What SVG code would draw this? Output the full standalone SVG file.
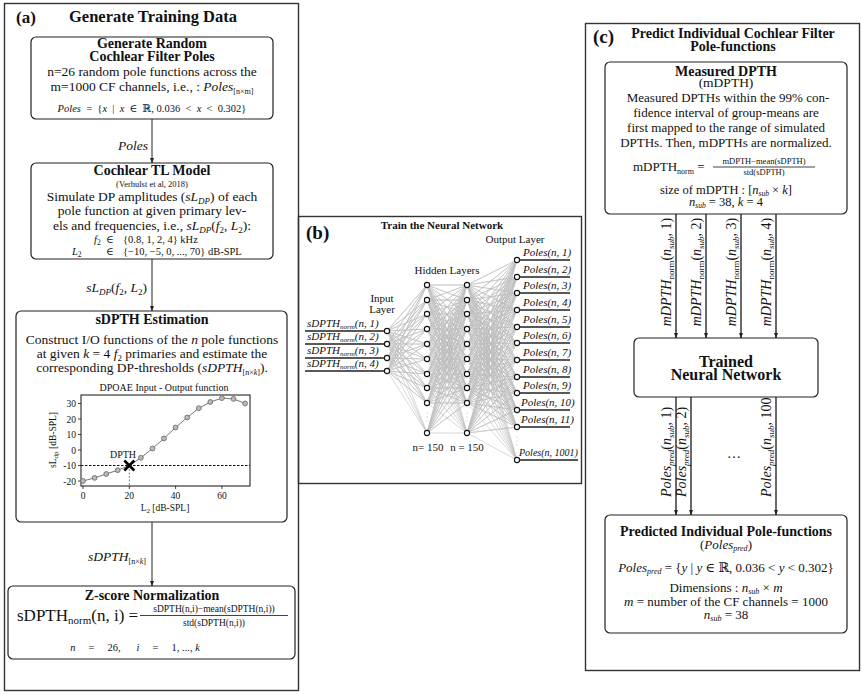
<svg xmlns="http://www.w3.org/2000/svg" width="862" height="694" viewBox="0 0 862 694">
<defs>
<marker id="ah" viewBox="0 0 10 10" refX="9" refY="5" markerWidth="6" markerHeight="6" markerUnits="userSpaceOnUse" orient="auto"><path d="M0,1.5L10,5L0,8.5z" fill="#222"/></marker>
<style>
text{font-family:"Liberation Serif","DejaVu Serif",serif;fill:#111}
.frame{fill:none;stroke:#333;stroke-width:1.4}
.box{fill:#fff;stroke:#222;stroke-width:1.2}
.t{font-size:13.5px}
.s{font-size:10.5px}
.c{text-anchor:middle}
.e{text-anchor:end}
.b{font-weight:bold}
.i{font-style:italic}
.h{font-size:14px;font-weight:bold}
.arr{fill:none;stroke:#222;stroke-width:1;marker-end:url(#ah)}
.arr2{fill:none;stroke:#444;stroke-width:1.6;marker-end:url(#ah)}
.nn{fill:none;stroke:#bdbdbd;stroke-width:0.6}
.nd{fill:#fff;stroke:#111;stroke-width:1.1}
.io{stroke:#222;stroke-width:1.3}
.pt{fill:#bbb;stroke:#777;stroke-width:1}
.dot{fill:#bbb}
</style>
</defs>
<rect width="862" height="694" fill="#fff"/>

<!-- Panel frames -->
<g id="panel-a-frame">
<rect class="frame" x="4.5" y="3.5" width="294" height="687"/>
<text x="16" y="23" font-size="17" class="b">(a)</text>
<text x="153" y="22" font-size="16.5" class="b c">Generate Training Data</text>
</g>
<g id="panel-b-frame">
<rect class="frame" x="298.5" y="216.5" width="283" height="267"/>
<text x="306" y="239" font-size="19" class="b">(b)</text>
<text x="442" y="229" font-size="11" class="b c">Train the Neural Network</text>
</g>
<g id="panel-c-frame">
<rect class="frame" x="585.5" y="23.5" width="274" height="647"/>
<text x="593" y="43" font-size="19" class="b">(c)</text>
<text x="733" y="38" class="h c">Predict Individual Cochlear Filter</text>
<text x="733" y="51" class="h c">Pole-functions</text>
</g>

<!-- Connectors -->
<g id="connectors">
<line class="arr" x1="152" y1="119" x2="152" y2="163"/>
<line class="arr" x1="152" y1="259" x2="152" y2="311"/>
<line class="arr" x1="152" y1="522" x2="152" y2="586"/>
<line class="arr2" x1="676" y1="214" x2="676" y2="338"/>
<line class="arr2" x1="706" y1="214" x2="706" y2="338"/>
<line class="arr2" x1="741" y1="214" x2="741" y2="338"/>
<line class="arr2" x1="776" y1="214" x2="776" y2="338"/>
<line class="arr2" x1="676" y1="397" x2="676" y2="515"/>
<line class="arr2" x1="691" y1="397" x2="691" y2="515"/>
<line class="arr2" x1="776" y1="397" x2="776" y2="515"/>
<text x="148" y="150" class="t i e">Poles</text>
<text x="147" y="292" class="t e"><tspan class="i">sL</tspan><tspan class="i" font-size="9" dy="3">DP</tspan><tspan dy="-3">(</tspan><tspan class="i">f</tspan><tspan font-size="9" dy="3">2</tspan><tspan dy="-3">, </tspan><tspan class="i">L</tspan><tspan font-size="9" dy="3">2</tspan><tspan dy="-3">)</tspan></text>
<text x="146" y="561" class="t e"><tspan class="i">sDPTH</tspan><tspan font-size="8" dy="3">[n×</tspan><tspan class="i" font-size="8">k</tspan><tspan font-size="8">]</tspan></text>
<text transform="translate(671,272) rotate(-90)" font-size="14" class="c"><tspan class="i">mDPTH</tspan><tspan font-size="9" dy="2.5">norm</tspan><tspan dy="-2.5">(</tspan><tspan class="i">n</tspan><tspan class="i" font-size="9" dy="2.5">sub</tspan><tspan dy="-2.5">, 1)</tspan></text>
<text transform="translate(701,272) rotate(-90)" font-size="14" class="c"><tspan class="i">mDPTH</tspan><tspan font-size="9" dy="2.5">norm</tspan><tspan dy="-2.5">(</tspan><tspan class="i">n</tspan><tspan class="i" font-size="9" dy="2.5">sub</tspan><tspan dy="-2.5">, 2)</tspan></text>
<text transform="translate(736,272) rotate(-90)" font-size="14" class="c"><tspan class="i">mDPTH</tspan><tspan font-size="9" dy="2.5">norm</tspan><tspan dy="-2.5">(</tspan><tspan class="i">n</tspan><tspan class="i" font-size="9" dy="2.5">sub</tspan><tspan dy="-2.5">, 3)</tspan></text>
<text transform="translate(771,272) rotate(-90)" font-size="14" class="c"><tspan class="i">mDPTH</tspan><tspan font-size="9" dy="2.5">norm</tspan><tspan dy="-2.5">(</tspan><tspan class="i">n</tspan><tspan class="i" font-size="9" dy="2.5">sub</tspan><tspan dy="-2.5">, 4)</tspan></text>
<text transform="translate(671,497) rotate(-90)" font-size="14"><tspan class="i">Poles</tspan><tspan class="i" font-size="9" dy="2.5">pred</tspan><tspan dy="-2.5">(</tspan><tspan class="i">n</tspan><tspan class="i" font-size="9" dy="2.5">sub</tspan><tspan dy="-2.5">, 1)</tspan></text>
<text transform="translate(686,497) rotate(-90)" font-size="14"><tspan class="i">Poles</tspan><tspan class="i" font-size="9" dy="2.5">pred</tspan><tspan dy="-2.5">(</tspan><tspan class="i">n</tspan><tspan class="i" font-size="9" dy="2.5">sub</tspan><tspan dy="-2.5">, 2)</tspan></text>
<text transform="translate(771,497) rotate(-90)" font-size="14"><tspan class="i">Poles</tspan><tspan class="i" font-size="9" dy="2.5">pred</tspan><tspan dy="-2.5">(</tspan><tspan class="i">n</tspan><tspan class="i" font-size="9" dy="2.5">sub</tspan><tspan dy="-2.5">, 1000)</tspan></text>
<text x="734" y="458" font-size="14" class="c">…</text>
</g>

<!-- Panel a nodes -->
<g id="gen-poles">
<rect class="box" x="31" y="37" width="242" height="82" rx="5"/>
<text x="152" y="48" class="h c">Generate Random</text>
<text x="152" y="61" class="h c">Cochlear Filter Poles</text>
<text x="152" y="76" class="t c">n=26 random pole functions across the</text>
<text x="152" y="91" class="t c">m=1000 CF channels, i.e., : <tspan class="i">Poles</tspan><tspan font-size="8" dy="3">[n×m]</tspan></text>
<text x="152" y="112" font-size="10.5" class="c" xml:space="preserve"><tspan class="i">Poles</tspan>  =  {<tspan class="i">x</tspan>  |  <tspan class="i">x</tspan>  ∈  ℝ, 0.036  &lt;  <tspan class="i">x</tspan>  &lt;  0.302}</text>
</g>

<g id="tl-model">
<rect class="box" x="31" y="163" width="242" height="96" rx="5"/>
<text x="152" y="175" class="h c">Cochlear TL Model</text>
<text x="152" y="187" font-size="8.5" class="c">(Verhulst et al, 2018)</text>
<text x="152" y="201" class="t c">Simulate DP amplitudes (<tspan class="i">sL</tspan><tspan class="i" font-size="9" dy="3">DP</tspan><tspan dy="-3">) of each</tspan></text>
<text x="152" y="215" class="t c">pole function at given primary lev-</text>
<text x="152" y="230" class="t c">els and frequencies, i.e., <tspan class="i">sL</tspan><tspan class="i" font-size="9" dy="3">DP</tspan><tspan dy="-3">(</tspan><tspan class="i">f</tspan><tspan font-size="9" dy="3">2</tspan><tspan dy="-3">, </tspan><tspan class="i">L</tspan><tspan font-size="9" dy="3">2</tspan><tspan dy="-3">):</tspan></text>
<text x="94" y="243" class="s"><tspan class="i">f</tspan><tspan font-size="7.5" dy="2">2</tspan></text>
<text x="110" y="243" class="s c">∈</text>
<text x="123" y="243" class="s">{0.8, 1, 2, 4} kHz</text>
<text x="72" y="255" class="s"><tspan class="i">L</tspan><tspan font-size="7.5" dy="2">2</tspan></text>
<text x="110" y="255" class="s c">∈</text>
<text x="123" y="255" class="s">{−10, −5, 0, ..., 70} dB-SPL</text>
</g>

<g id="sdpth-estimation">
<rect class="box" x="16" y="311" width="271" height="211" rx="5"/>
<text x="152" y="324" class="h c">sDPTH Estimation</text>
<text x="152" y="344" class="t c">Construct I/O functions of the <tspan class="i">n</tspan> pole functions</text>
<text x="152" y="358" class="t c">at given <tspan class="i">k</tspan> = 4 <tspan class="i">f</tspan><tspan font-size="9" dy="3">2</tspan><tspan dy="-3"> primaries and estimate the</tspan></text>
<text x="152" y="372" class="t c">corresponding DP-thresholds (<tspan class="i">sDPTH</tspan><tspan font-size="8" dy="3">[n×</tspan><tspan class="i" font-size="8">k</tspan><tspan font-size="8">]</tspan><tspan dy="-3">).</tspan></text>
<text x="164" y="391" font-size="10" class="c">DPOAE Input - Output function</text>
<g id="plot">
<rect x="81" y="395" width="169" height="91" fill="none" stroke="#111" stroke-width="1"/>
<path d="M81 403.5h-3M81 419h-3M81 434.5h-3M81 450h-3M81 465.5h-3M81 481h-3M83 486v3M129.3 486v3M175.6 486v3M221.9 486v3" stroke="#111" stroke-width="0.8"/>
<g font-size="9.5" class="e">
<text x="76" y="407">30</text><text x="76" y="422.5">20</text><text x="76" y="438">10</text><text x="76" y="453.5">0</text><text x="76" y="469">-10</text><text x="76" y="484.5">-20</text>
</g>
<g font-size="9.5" class="c">
<text x="83" y="499">0</text><text x="129.3" y="499">20</text><text x="175.6" y="499">40</text><text x="221.9" y="499">60</text>
</g>
<text x="165" y="511" font-size="9.5" class="c">L<tspan font-size="7" dy="2">2</tspan><tspan dy="-2"> [dB-SPL]</tspan></text>
<text transform="translate(56,440) rotate(-90)" font-size="9.5" class="c">sL<tspan font-size="7" dy="2">dp</tspan><tspan dy="-2"> [dB-SPL]</tspan></text>
<line x1="81" y1="465.5" x2="250" y2="465.5" stroke="#111" stroke-width="1" stroke-dasharray="2.5,1.5"/>
<line x1="129.3" y1="465.5" x2="129.3" y2="486" stroke="#666" stroke-width="0.8" stroke-dasharray="2,1.5"/>
<polyline fill="none" stroke="#777" stroke-width="1" points="83,481 94.6,477.9 106.2,474 117.7,470.2 129.3,465.5 140.9,457.8 152.5,448.5 164,438.4 175.6,427.5 187.2,417.5 198.8,408.2 210.3,402 221.9,398.1 233.5,398.9 245.1,403.5"/>
<g class="pt">
<circle cx="83" cy="481" r="2.4"/><circle cx="94.6" cy="477.9" r="2.4"/><circle cx="106.2" cy="474" r="2.4"/><circle cx="117.7" cy="470.2" r="2.4"/><circle cx="140.9" cy="457.8" r="2.4"/><circle cx="152.5" cy="448.5" r="2.4"/><circle cx="164" cy="438.4" r="2.4"/><circle cx="175.6" cy="427.5" r="2.4"/><circle cx="187.2" cy="417.5" r="2.4"/><circle cx="198.8" cy="408.2" r="2.4"/><circle cx="210.3" cy="402" r="2.4"/><circle cx="221.9" cy="398.1" r="2.4"/><circle cx="233.5" cy="398.9" r="2.4"/><circle cx="245.1" cy="403.5" r="2.4"/>
</g>
<path d="M124.3 460.5L134.3 470.5M134.3 460.5L124.3 470.5" stroke="#000" stroke-width="2.6"/>
<text x="123" y="458" font-size="10" class="c">DPTH</text>
</g>
</g>

<g id="zscore">
<rect class="box" x="8" y="586" width="287" height="73" rx="5"/>
<text x="152" y="600" class="h c">Z-score Normalization</text>
<text x="17" y="621" font-size="17">sDPTH<tspan font-size="11" dy="3">norm</tspan><tspan dy="-3">(n, i) =</tspan></text>
<text x="214" y="612" font-size="9.5" class="c">sDPTH(n,i)−mean(sDPTH(n,i))</text>
<line x1="140" y1="615.5" x2="288" y2="615.5" stroke="#111" stroke-width="0.8"/>
<text x="214" y="626" font-size="9.5" class="c">std(sDPTH(n,i))</text>
<text x="135" y="651" font-size="10.5" class="c" xml:space="preserve"><tspan class="i">n</tspan>     =     26,      <tspan class="i">i</tspan>     =     1, ..., <tspan class="i">k</tspan></text>
</g>

<!-- Panel b network -->
<g id="network-edges">
<path class="nn" d="M387 331L427 285 387 331 427 300 387 331 427 314 387 331 427 329 387 331 427 344 387 331 427 359 387 331 427 374 387 331 427 388 387 331 427 403 387 331 427 433
M387 344L427 285 387 344 427 300 387 344 427 314 387 344 427 329 387 344 427 344 387 344 427 359 387 344 427 374 387 344 427 388 387 344 427 403 387 344 427 433
M387 358L427 285 387 358 427 300 387 358 427 314 387 358 427 329 387 358 427 344 387 358 427 359 387 358 427 374 387 358 427 388 387 358 427 403 387 358 427 433
M387 371L427 285 387 371 427 300 387 371 427 314 387 371 427 329 387 371 427 344 387 371 427 359 387 371 427 374 387 371 427 388 387 371 427 403 387 371 427 433"/>
<path class="nn" d="M427 285L467 285 427 285 467 300 427 285 467 314 427 285 467 329 427 285 467 344 427 285 467 359 427 285 467 374 427 285 467 388 427 285 467 403 427 285 467 433
M427 300L467 285 427 300 467 300 427 300 467 314 427 300 467 329 427 300 467 344 427 300 467 359 427 300 467 374 427 300 467 388 427 300 467 403 427 300 467 433
M427 314L467 285 427 314 467 300 427 314 467 314 427 314 467 329 427 314 467 344 427 314 467 359 427 314 467 374 427 314 467 388 427 314 467 403 427 314 467 433
M427 329L467 285 427 329 467 300 427 329 467 314 427 329 467 329 427 329 467 344 427 329 467 359 427 329 467 374 427 329 467 388 427 329 467 403 427 329 467 433
M427 344L467 285 427 344 467 300 427 344 467 314 427 344 467 329 427 344 467 344 427 344 467 359 427 344 467 374 427 344 467 388 427 344 467 403 427 344 467 433
M427 359L467 285 427 359 467 300 427 359 467 314 427 359 467 329 427 359 467 344 427 359 467 359 427 359 467 374 427 359 467 388 427 359 467 403 427 359 467 433
M427 374L467 285 427 374 467 300 427 374 467 314 427 374 467 329 427 374 467 344 427 374 467 359 427 374 467 374 427 374 467 388 427 374 467 403 427 374 467 433
M427 388L467 285 427 388 467 300 427 388 467 314 427 388 467 329 427 388 467 344 427 388 467 359 427 388 467 374 427 388 467 388 427 388 467 403 427 388 467 433
M427 403L467 285 427 403 467 300 427 403 467 314 427 403 467 329 427 403 467 344 427 403 467 359 427 403 467 374 427 403 467 388 427 403 467 403 427 403 467 433
M427 433L467 285 427 433 467 300 427 433 467 314 427 433 467 329 427 433 467 344 427 433 467 359 427 433 467 374 427 433 467 388 427 433 467 403 427 433 467 433"/>
<path class="nn" d="M467 285L517 260 467 285 517 277 467 285 517 293 467 285 517 310 467 285 517 327 467 285 517 343 467 285 517 360 467 285 517 377 467 285 517 393 467 285 517 410 467 285 517 427 467 285 517 460
M467 300L517 260 467 300 517 277 467 300 517 293 467 300 517 310 467 300 517 327 467 300 517 343 467 300 517 360 467 300 517 377 467 300 517 393 467 300 517 410 467 300 517 427 467 300 517 460
M467 314L517 260 467 314 517 277 467 314 517 293 467 314 517 310 467 314 517 327 467 314 517 343 467 314 517 360 467 314 517 377 467 314 517 393 467 314 517 410 467 314 517 427 467 314 517 460
M467 329L517 260 467 329 517 277 467 329 517 293 467 329 517 310 467 329 517 327 467 329 517 343 467 329 517 360 467 329 517 377 467 329 517 393 467 329 517 410 467 329 517 427 467 329 517 460
M467 344L517 260 467 344 517 277 467 344 517 293 467 344 517 310 467 344 517 327 467 344 517 343 467 344 517 360 467 344 517 377 467 344 517 393 467 344 517 410 467 344 517 427 467 344 517 460
M467 359L517 260 467 359 517 277 467 359 517 293 467 359 517 310 467 359 517 327 467 359 517 343 467 359 517 360 467 359 517 377 467 359 517 393 467 359 517 410 467 359 517 427 467 359 517 460
M467 374L517 260 467 374 517 277 467 374 517 293 467 374 517 310 467 374 517 327 467 374 517 343 467 374 517 360 467 374 517 377 467 374 517 393 467 374 517 410 467 374 517 427 467 374 517 460
M467 388L517 260 467 388 517 277 467 388 517 293 467 388 517 310 467 388 517 327 467 388 517 343 467 388 517 360 467 388 517 377 467 388 517 393 467 388 517 410 467 388 517 427 467 388 517 460
M467 403L517 260 467 403 517 277 467 403 517 293 467 403 517 310 467 403 517 327 467 403 517 343 467 403 517 360 467 403 517 377 467 403 517 393 467 403 517 410 467 403 517 427 467 403 517 460
M467 433L517 260 467 433 517 277 467 433 517 293 467 433 517 310 467 433 517 327 467 433 517 343 467 433 517 360 467 433 517 377 467 433 517 393 467 433 517 410 467 433 517 427 467 433 517 460"/>
</g>

<g id="input-layer">
<text x="382" y="302" font-size="11" class="c">Input</text>
<text x="382" y="313" font-size="11" class="c">Layer</text>
<path class="io" d="M305 331H385M305 344H385M305 358H385M305 371H385"/>
<g font-size="11" class="i">
<text x="307" y="327">sDPTH<tspan font-size="7" dy="2">norm</tspan><tspan dy="-2">(n, 1)</tspan></text>
<text x="307" y="340">sDPTH<tspan font-size="7" dy="2">norm</tspan><tspan dy="-2">(n, 2)</tspan></text>
<text x="307" y="354">sDPTH<tspan font-size="7" dy="2">norm</tspan><tspan dy="-2">(n, 3)</tspan></text>
<text x="307" y="367">sDPTH<tspan font-size="7" dy="2">norm</tspan><tspan dy="-2">(n, 4)</tspan></text>
</g>
<g class="nd"><circle cx="387" cy="331" r="2.6"/><circle cx="387" cy="344" r="2.6"/><circle cx="387" cy="358" r="2.6"/><circle cx="387" cy="371" r="2.6"/></g>
</g>

<g id="hidden-layers">
<text x="447" y="274" font-size="11" class="c">Hidden Layers</text>
<g class="nd">
<circle cx="427" cy="285" r="2.6"/><circle cx="427" cy="300" r="2.6"/><circle cx="427" cy="314" r="2.6"/><circle cx="427" cy="329" r="2.6"/><circle cx="427" cy="344" r="2.6"/><circle cx="427" cy="359" r="2.6"/><circle cx="427" cy="374" r="2.6"/><circle cx="427" cy="388" r="2.6"/><circle cx="427" cy="403" r="2.6"/><circle cx="427" cy="433" r="2.6"/>
<circle cx="467" cy="285" r="2.6"/><circle cx="467" cy="300" r="2.6"/><circle cx="467" cy="314" r="2.6"/><circle cx="467" cy="329" r="2.6"/><circle cx="467" cy="344" r="2.6"/><circle cx="467" cy="359" r="2.6"/><circle cx="467" cy="374" r="2.6"/><circle cx="467" cy="388" r="2.6"/><circle cx="467" cy="403" r="2.6"/><circle cx="467" cy="433" r="2.6"/>
</g>
<g class="dot"><circle cx="427" cy="413" r="0.6"/><circle cx="427" cy="417" r="0.6"/><circle cx="427" cy="421" r="0.6"/><circle cx="467" cy="413" r="0.6"/><circle cx="467" cy="417" r="0.6"/><circle cx="467" cy="421" r="0.6"/></g>
<text x="428" y="451" font-size="11" class="c">n= 150</text>
<text x="467" y="451" font-size="11" class="c">n = 150</text>
</g>

<g id="output-layer">
<text x="515" y="243" font-size="11" class="c">Output Layer</text>
<path class="io" d="M517 260H570M517 277H570M517 293H570M517 310H570M517 327H570M517 343H570M517 360H570M517 377H570M517 393H570M517 410H570M517 427H570M517 460H578"/>
<g font-size="11" class="i">
<text x="523" y="256">Poles(n, 1)</text>
<text x="523" y="273">Poles(n, 2)</text>
<text x="523" y="289">Poles(n, 3)</text>
<text x="523" y="306">Poles(n, 4)</text>
<text x="523" y="323">Poles(n, 5)</text>
<text x="523" y="339">Poles(n, 6)</text>
<text x="523" y="356">Poles(n, 7)</text>
<text x="523" y="373">Poles(n, 8)</text>
<text x="523" y="389">Poles(n, 9)</text>
<text x="521" y="406">Poles(n, 10)</text>
<text x="521" y="423">Poles(n, 11)</text>
<text x="519" y="456" font-size="10">Poles(n, 1001)</text>
</g>
<g class="nd">
<circle cx="517" cy="260" r="2.6"/><circle cx="517" cy="277" r="2.6"/><circle cx="517" cy="293" r="2.6"/><circle cx="517" cy="310" r="2.6"/><circle cx="517" cy="327" r="2.6"/><circle cx="517" cy="343" r="2.6"/><circle cx="517" cy="360" r="2.6"/><circle cx="517" cy="377" r="2.6"/><circle cx="517" cy="393" r="2.6"/><circle cx="517" cy="410" r="2.6"/><circle cx="517" cy="427" r="2.6"/><circle cx="517" cy="460" r="2.6"/>
</g>
<g class="dot"><circle cx="517" cy="437" r="0.6"/><circle cx="517" cy="441" r="0.6"/><circle cx="517" cy="445" r="0.6"/></g>
</g>

<!-- Panel c nodes -->
<g id="measured-dpth">
<rect class="box" x="605" y="62" width="242" height="152" rx="5"/>
<text x="726" y="76" class="h c">Measured DPTH</text>
<text x="726" y="87" class="t c">(mDPTH)</text>
<text x="728" y="102" font-size="13" class="c">Measured DPTHs within the 99% con-</text>
<text x="726" y="117" font-size="13" class="c">fidence interval of group-means are</text>
<text x="726" y="132" font-size="13" class="c">first mapped to the range of simulated</text>
<text x="726" y="147" font-size="13" class="c">DPTHs.  Then, mDPTHs are normalized.</text>
<text x="633" y="171" font-size="13">mDPTH<tspan font-size="8" dy="3">norm</tspan><tspan dy="-3"> =</tspan></text>
<text x="764" y="164" font-size="8.5" class="c">mDPTH−mean(sDPTH)</text>
<line x1="713" y1="167" x2="815" y2="167" stroke="#111" stroke-width="0.8"/>
<text x="764" y="175" font-size="8.5" class="c">std(sDPTH)</text>
<text x="726" y="194" font-size="12.5" class="c">size of mDPTH : [<tspan class="i">n</tspan><tspan class="i" font-size="7.5" dy="2">sub</tspan><tspan dy="-2"> × </tspan><tspan class="i">k</tspan>]</text>
<text x="726" y="206" font-size="12.5" class="c"><tspan class="i">n</tspan><tspan class="i" font-size="7.5" dy="2">sub</tspan><tspan dy="-2"> = 38, </tspan><tspan class="i">k</tspan> = 4</text>
</g>

<g id="trained-nn">
<rect class="box" x="634" y="338" width="184" height="59" rx="5"/>
<text x="726" y="367" font-size="16" class="b c">Trained</text>
<text x="726" y="380" font-size="16" class="b c">Neural Network</text>
</g>

<g id="predicted-poles">
<rect class="box" x="605" y="515" width="242" height="118" rx="5"/>
<text x="726" y="536" class="h c">Predicted Individual Pole-functions</text>
<text x="726" y="549" font-size="13" class="c">(<tspan class="i">Poles</tspan><tspan class="i" font-size="8" dy="2">pred</tspan><tspan dy="-2">)</tspan></text>
<text x="726" y="572" font-size="13" class="c"><tspan class="i">Poles</tspan><tspan class="i" font-size="8" dy="2">pred</tspan><tspan dy="-2"> = {</tspan><tspan class="i">y</tspan> | <tspan class="i">y</tspan> ∈ ℝ, 0.036 &lt; <tspan class="i">y</tspan> &lt; 0.302}</text>
<text x="726" y="592" font-size="13" class="c">Dimensions : <tspan class="i">n</tspan><tspan class="i" font-size="8" dy="2">sub</tspan><tspan dy="-2"> × </tspan><tspan class="i">m</tspan></text>
<text x="726" y="606" font-size="13" class="c"><tspan class="i">m</tspan> =  number of the CF channels  =  1000</text>
<text x="726" y="619" font-size="13" class="c"><tspan class="i">n</tspan><tspan class="i" font-size="8" dy="2">sub</tspan><tspan dy="-2"> = 38</tspan></text>
</g>
</svg>
